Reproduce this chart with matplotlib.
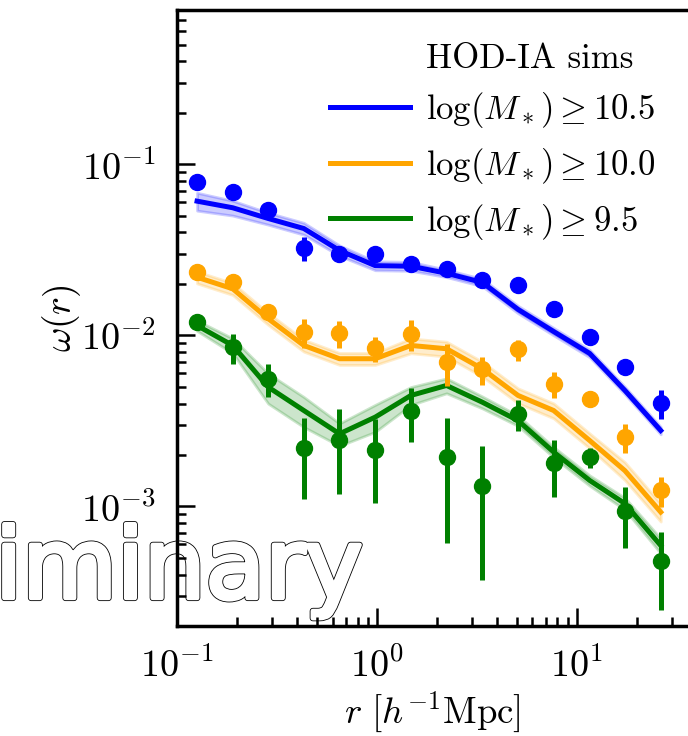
import numpy as np
import matplotlib
matplotlib.use("Agg")
import matplotlib.pyplot as plt
import matplotlib.patheffects as pe
from matplotlib.lines import Line2D

plt.rcParams['font.family'] = 'serif'
plt.rcParams['font.serif'] = ['cmr10', 'DejaVu Serif']
plt.rcParams['mathtext.fontset'] = 'cm'
plt.rcParams['axes.formatter.use_mathtext'] = True

# separation bins [h^-1 Mpc]
r = [0.126, 0.190, 0.286, 0.431, 0.650, 0.981, 1.48, 2.23, 3.37, 5.08, 7.66, 11.6, 17.4, 26.3]

# measured w(r) (points) and errors
w_hi = [0.0788, 0.0689, 0.0543, 0.0324, 0.0298, 0.0301, 0.0262, 0.0245, 0.0210, 0.0196, 0.0143, 0.00977, 0.00652, 0.00403]
e_hi = [0.003, 0.003, 0.0025, 0.0053, 0.0018, 0.0012, 0.0012, 0.0012, 0.0009, 0.0008, 0.0006, 0.0005, 0.0004, 0.0008]
w_mid = [0.0234, 0.0205, 0.0138, 0.01044, 0.01027, 0.00840, 0.01023, 0.00698, 0.00633, 0.00828, 0.00522, 0.00427, 0.00254, 0.00124]
e_mid = [0.0008, 0.0008, 0.0006, 0.0020, 0.0018, 0.0014, 0.0021, 0.0019, 0.0012, 0.00115, 0.0009, 0.0002, 0.00048, 0.00025]
w_lo = [0.01197, 0.00855, 0.00558, 0.00219, 0.00245, 0.00215, 0.00364, 0.00194, 0.00131, 0.00348, 0.00179, 0.00194, 0.000937, 0.000478]
e_lo = [0.0004, 0.0017, 0.00124, 0.00108, 0.00126, 0.0011, 0.00127, 0.00133, 0.00094, 0.00072, 0.00065, 0.00026, 0.000365, 0.00023]

# HOD-IA sims (lines) and fractional band widths
m_hi = [0.0610, 0.0558, 0.0483, 0.0422, 0.0314, 0.0256, 0.0254, 0.0231, 0.0204, 0.0142, 0.01054, 0.00785, 0.00477, 0.00278]
f_hi = [0.12, 0.10, 0.08, 0.08, 0.07, 0.06, 0.06, 0.05, 0.05, 0.05, 0.05, 0.05, 0.05, 0.05]
m_mid = [0.0219, 0.01875, 0.01253, 0.00874, 0.00731, 0.00731, 0.00874, 0.00836, 0.00638, 0.00446, 0.00364, 0.00243, 0.00162, 0.000927]
f_mid = [0.08, 0.08, 0.08, 0.08, 0.08, 0.08, 0.10, 0.10, 0.10, 0.10, 0.10, 0.10, 0.12, 0.12]
m_lo = [0.01143, 0.00874, 0.00499, 0.00364, 0.00266, 0.00333, 0.00446, 0.00510, 0.00407, 0.00318, 0.00208, 0.00142, 0.00104, 0.000591]
f_lo = [0.07, 0.10, 0.20, 0.20, 0.15, 0.18, 0.12, 0.10, 0.08, 0.07, 0.07, 0.07, 0.08, 0.10]

labels = [r'$\log(M_*)\geq10.5$', r'$\log(M_*)\geq10.0$', r'$\log(M_*)\geq9.5$']
colors = ['blue', 'orange', 'green']

fig = plt.figure(figsize=(6.88, 7.36), dpi=100)
ax = fig.add_axes([177/688, 110/736, 1 - 177/688, 616/736])

r_arr = np.array(r)
sets = [(w_hi, e_hi, m_hi, f_hi), (w_mid, e_mid, m_mid, f_mid), (w_lo, e_lo, m_lo, f_lo)]
for (w, e, m, f), c in zip(sets, colors):
    m = np.array(m); f = np.array(f)
    ax.fill_between(r_arr, m*(1-f), m*(1+f), color=c, alpha=0.2, lw=2, zorder=1.8)
    ax.plot(r_arr, m, color=c, lw=3.6, zorder=2)
    ax.errorbar(r_arr, w, yerr=e, fmt='o', color=c, ms=11.5, elinewidth=3.6,
                capsize=0, zorder=3)

ax.set_xscale('log')
ax.set_yscale('log')
ax.set_xlim(0.1, 36)
ax.set_ylim(2e-4, 0.8)
ax.spines['right'].set_visible(False)
for s in ax.spines.values():
    s.set_linewidth(2.5)
ax.tick_params(which='both', direction='in', top=False, right=False, width=1.8, labelsize=27.5, pad=15)
ax.tick_params(which='major', length=13)
ax.tick_params(which='minor', length=6.5)
ax.yaxis.set_minor_formatter(plt.NullFormatter())
ax.xaxis.set_minor_formatter(plt.NullFormatter())

ax.set_xlabel(r'$r\ [h^{-1}\mathrm{Mpc}]$', fontsize=26.5, labelpad=4)
ax.set_ylabel(r'$\omega(r)$', fontsize=27, labelpad=-1)

handles = [Line2D([], [], ls='none', marker=None)]
handles += [Line2D([], [], color=c, lw=3.6) for c in colors]
ax.legend(handles, ['HOD-IA sims'] + labels, loc='upper right', frameon=False,
          fontsize=25, handlelength=2.3, handletextpad=0.46, labelspacing=0.45,
          borderaxespad=0.55)

# "Preliminary" watermark, cut off at the left edge
ax.text(363/688, 1 - 598/736, 'Preliminary', transform=fig.transFigure, ha='right',
        va='baseline', fontsize=70, family='DejaVu Sans', color='white',
        clip_on=False, zorder=1,
        path_effects=[pe.Stroke(linewidth=4.4, foreground='black', joinstyle='round', capstyle='round'),
                      pe.Stroke(linewidth=3.2, foreground='white', joinstyle='round', capstyle='round'),
                      pe.Normal()])

fig.savefig('out.png', dpi=100)
